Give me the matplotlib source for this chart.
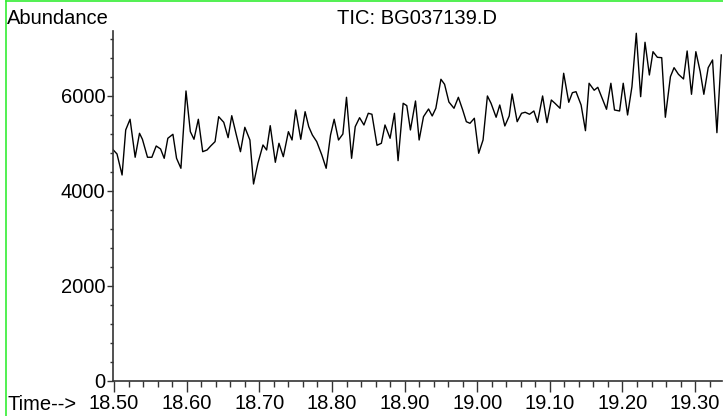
import matplotlib
matplotlib.use("Agg")
import matplotlib.pyplot as plt
from matplotlib.lines import Line2D
from matplotlib.ticker import MultipleLocator, FormatStrFormatter

plt.rcParams['font.family'] = ['Liberation Sans', 'DejaVu Sans']

# scan times (min) and total ion current
times = [18.498, 18.504, 18.511, 18.516, 18.522, 18.529, 18.535, 18.539, 18.546, 18.552,
         18.558, 18.564, 18.569, 18.574, 18.581, 18.586, 18.592, 18.599, 18.605, 18.610,
         18.616, 18.622, 18.628, 18.633, 18.639, 18.644, 18.651, 18.657, 18.662, 18.668,
         18.674, 18.680, 18.687, 18.692, 18.698, 18.705, 18.710, 18.715, 18.722, 18.727,
         18.733, 18.740, 18.745, 18.750, 18.757, 18.763, 18.768, 18.773, 18.779, 18.786,
         18.792, 18.798, 18.803, 18.809, 18.815, 18.820, 18.827, 18.832, 18.838, 18.844,
         18.850, 18.855, 18.862, 18.868, 18.873, 18.880, 18.886, 18.891, 18.898, 18.903,
         18.908, 18.915, 18.920, 18.926, 18.933, 18.938, 18.943, 18.950, 18.955, 18.961,
         18.968, 18.974, 18.980, 18.985, 18.990, 18.996, 19.002, 19.008, 19.014, 19.019,
         19.026, 19.031, 19.038, 19.044, 19.048, 19.055, 19.061, 19.066, 19.072, 19.078,
         19.083, 19.090, 19.096, 19.102, 19.107, 19.114, 19.119, 19.126, 19.131, 19.136,
         19.143, 19.149, 19.154, 19.161, 19.166, 19.172, 19.178, 19.184, 19.189, 19.196,
         19.201, 19.207, 19.213, 19.219, 19.225, 19.231, 19.237, 19.242, 19.248, 19.254,
         19.259, 19.266, 19.271, 19.277, 19.284, 19.289, 19.295, 19.301, 19.307, 19.312,
         19.318, 19.324, 19.330, 19.336]
abundance = [4873, 4774, 4332, 5279, 5504, 4705, 5209, 5083, 4705, 4705,
             4942, 4879, 4683, 5104, 5188, 4683, 4473, 6099, 5243, 5083,
             5504, 4822, 4858, 4942, 5033, 5558, 5440, 5117, 5579, 5194,
             4822, 5335, 5068, 4143, 4578, 4963, 4858, 5369, 4599, 4999,
             4717, 5243, 5068, 5699, 5083, 5663, 5348, 5173, 5033, 4753,
             4473, 5173, 5504, 5068, 5194, 5966, 4683, 5348, 5537, 5384,
             5630, 5609, 4957, 4999, 5384, 5104, 5630, 4633, 5840, 5790,
             5279, 5888, 5068, 5558, 5720, 5573, 5735, 6345, 6240, 5867,
             5735, 5966, 5699, 5453, 5419, 5525, 4789, 5068, 5994, 5840,
             5546, 5804, 5363, 5573, 6036, 5453, 5630, 5651, 5609, 5678,
             5440, 5994, 5432, 5909, 5840, 5735, 6471, 5861, 6063, 6084,
             5804, 5264, 6261, 6114, 6176, 5945, 5714, 6261, 5699, 5678,
             6261, 5594, 6189, 7312, 5979, 7123, 6435, 6925, 6807, 6799,
             5546, 6400, 6589, 6450, 6351, 6940, 6029, 6925, 6505, 6029,
             6589, 6751, 5222, 6856]

W, H = 723, 416
fig = plt.figure(figsize=(W / 100, H / 100), dpi=100)
ax = fig.add_axes([113 / W, 35 / H, (722 - 113) / W, (381 - 31) / H])

ax.plot(times, abundance, color='black', lw=1.0)
ax.set_xlim(18.4985, 19.337)
ax.set_ylim(0, 7360)

for s in ('top', 'right'):
    ax.spines[s].set_visible(False)
for s in ('left', 'bottom'):
    ax.spines[s].set_color('#333333')
    ax.spines[s].set_linewidth(1.2)

ax.xaxis.set_major_locator(MultipleLocator(0.1))
ax.xaxis.set_minor_locator(MultipleLocator(0.02))
ax.xaxis.set_major_formatter(FormatStrFormatter('%.2f'))
ax.yaxis.set_major_locator(MultipleLocator(2000))
ax.yaxis.set_minor_locator(MultipleLocator(400))

ax.tick_params(axis='x', which='major', length=8, width=1, pad=1.5, labelsize=14.5, color='#333333')
ax.tick_params(axis='x', which='minor', length=4, width=1, color='#333333')
ax.tick_params(axis='y', which='major', length=4.5, width=1, pad=1, labelsize=14.5, color='#333333')
ax.tick_params(axis='y', which='minor', length=2.5, width=1, color='#333333')

fig.text(7 / W, 1 - 18 / H, 'Abundance', fontsize=14.5, ha='left', va='center')
fig.text((113 + 722) / 2 / W, 1 - 18 / H, 'TIC: BG037139.D', fontsize=14.5, ha='center', va='center')
fig.text(7 / W, 1 - 404 / H, 'Time-->', fontsize=14.5, ha='left', va='center')

# green frame: top and left edges
green = '#33ee33'
fig.add_artist(Line2D([5.5 / W, 5.5 / W], [0, 1 - 1 / H], transform=fig.transFigure, color=green, lw=1.2))
fig.add_artist(Line2D([5.5 / W, 1], [1 - 1 / H, 1 - 1 / H], transform=fig.transFigure, color=green, lw=1.2))

fig.savefig('out.png', dpi=100)
